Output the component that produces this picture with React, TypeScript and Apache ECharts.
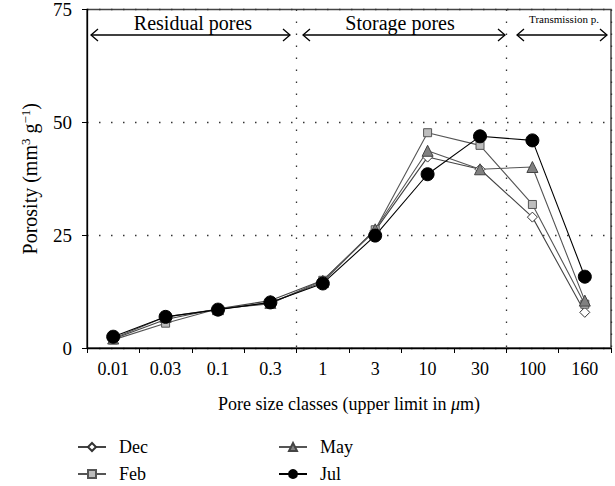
import React, { useEffect, useRef } from "react";
import * as echarts from "echarts";

const categories = ["0.01", "0.03", "0.1", "0.3", "1", "3", "10", "30", "100", "160"];
const decValues = [2.0, 6.3, 8.7, 10.5, 15.0, 26.0, 42.3, 39.6, 29.0, 7.9];
const febValues = [1.8, 5.5, 8.7, 9.8, 15.0, 26.2, 47.7, 44.9, 31.8, 9.7];
const mayValues = [2.1, 6.9, 8.6, 10.0, 14.6, 26.3, 43.7, 39.6, 40.1, 10.5];
const julValues = [2.5, 6.9, 8.5, 10.1, 14.3, 24.9, 38.5, 46.9, 46.0, 15.8];
const yTicks = [0, 25, 50, 75];

const FONT = "Liberation Serif";

function arrow(x1: number, x2: number, y: number) {
  const s = { stroke: "#000", lineWidth: 1.3, fill: "none" };
  return [
    { type: "line", shape: { x1, y1: y, x2, y2: y }, style: s, silent: true },
    { type: "polyline", shape: { points: [[x1 + 7, y - 6], [x1, y], [x1 + 7, y + 6]] }, style: s, silent: true },
    { type: "polyline", shape: { points: [[x2 - 7, y - 6], [x2, y], [x2 - 7, y + 6]] }, style: s, silent: true },
  ];
}

function legendItem(name: string, left: number, top: number) {
  return {
    data: [name],
    orient: "horizontal",
    left,
    top,
    itemWidth: 28,
    itemHeight: 10,
    textStyle: { fontSize: 18, fontFamily: FONT, color: "#000", padding: [0, 0, 0, 8] },
  };
}

export default function App() {
  const ref = useRef<HTMLDivElement>(null);
  useEffect(() => {
    if (!ref.current) return;
    const chart = echarts.init(ref.current, null, { renderer: "svg" });
    const lineSeries = (name: string, data: number[], symbol: string, size: number, fill: string, border: string, lineColor: string) => ({
      name,
      type: "line",
      data,
      symbol,
      symbolSize: size,
      itemStyle: { color: fill, borderColor: border, borderWidth: 1 },
      lineStyle: { color: lineColor, width: 1.1 },
    });
    const dotted = { color: "#333", type: [1.5, 10.5], width: 1.3 };
    chart.setOption({
      animation: false,
      textStyle: { fontFamily: FONT },
      grid: { left: 87, right: 4, top: 8, bottom: 138, show: true, borderColor: "#444", borderWidth: 1.5, backgroundColor: "transparent" },
      xAxis: {
        type: "category",
        data: categories,
        boundaryGap: true,
        axisLine: { lineStyle: { color: "#000", width: 1.3 } },
        axisTick: { show: true, length: 5, lineStyle: { color: "#000" } },
        axisLabel: { color: "#000", fontSize: 18, fontFamily: FONT, margin: 12 },
        splitLine: {
          show: true,
          interval: (idx: number) => idx === 4 || idx === 8,
          lineStyle: dotted,
        },
        name: "{a|Pore size classes (upper limit in }{i|μ}{a|m)}",
        nameLocation: "middle",
        nameGap: 47,
        nameTextStyle: {
          rich: {
            a: { fontSize: 18, fontFamily: FONT, color: "#000" },
            i: { fontSize: 18, fontFamily: FONT, fontStyle: "italic", color: "#000" },
          },
        },
      },
      yAxis: {
        type: "value",
        min: yTicks[0],
        max: yTicks[yTicks.length - 1],
        interval: 25,
        axisLine: { show: true, lineStyle: { color: "#000", width: 1.3 } },
        axisTick: { show: true, inside: false, length: 5, lineStyle: { color: "#000" } },
        axisLabel: { color: "#000", fontSize: 19, fontFamily: FONT, margin: 15 },
        splitLine: { show: true, lineStyle: dotted },
        name: "{a|Porosity (mm}{s|3}{a| g}{s|−1}{a|)}",
        nameLocation: "middle",
        nameGap: 46,
        nameTextStyle: {
          rich: {
            a: { fontSize: 20, fontFamily: FONT, color: "#000" },
            s: { fontSize: 13, fontFamily: FONT, color: "#000", verticalAlign: "top", padding: [0, 0, 9, 0] },
          },
        },
      },
      legend: [
        legendItem("Dec", 72, 433),
        legendItem("Feb", 72, 460),
        legendItem("May", 273, 433),
        legendItem("Jul", 273, 460),
      ],
      series: [
        lineSeries("Dec", decValues, "diamond", 10, "#fff", "#333", "#444"),
        lineSeries("Feb", febValues, "rect", 8, "#bdbdbd", "#555", "#555"),
        lineSeries("May", mayValues, "triangle", 11, "#808080", "#444", "#555"),
        lineSeries("Jul", julValues, "circle", 13, "#000", "#000", "#000"),
      ],
      graphic: [
        ...arrow(91, 290, 35),
        ...arrow(303, 505, 35),
        ...arrow(517, 607, 35),
        { type: "text", x: 193, y: 23, style: { text: "Residual pores", font: `20px "${FONT}"`, fill: "#000", textAlign: "center", textVerticalAlign: "middle" } },
        { type: "text", x: 400, y: 23, style: { text: "Storage pores", font: `20px "${FONT}"`, fill: "#000", textAlign: "center", textVerticalAlign: "middle" } },
        { type: "text", x: 564, y: 19, style: { text: "Transmission p.", font: `11px "${FONT}"`, fill: "#000", textAlign: "center", textVerticalAlign: "middle" } },
      ],
    });
    return () => chart.dispose();
  }, []);
  return <div ref={ref} style={{ position: "absolute", left: 0, top: 0, width: 615, height: 486, background: "#fff" }} />;
}
